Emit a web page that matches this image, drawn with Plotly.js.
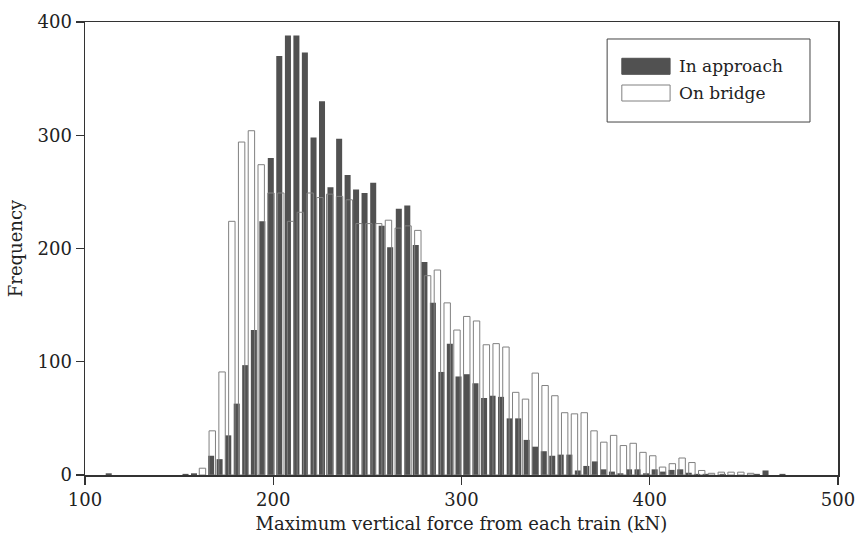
<!DOCTYPE html>
<html>
<head>
<meta charset="utf-8">
<script src="https://cdn.plot.ly/plotly-3.0.1.min.js"></script>
<style>
  html, body { margin: 0; padding: 0; background: #ffffff; }
  #chart { width: 855px; height: 536px; }
</style>
</head>
<body>
<div id="chart"></div>
<script>
// Histogram of the maximum vertical force per train, two measurement locations.

// "In approach" histogram: bin centres (kN) and counts
const approachForce = [
  112.6, 153.4, 157.9,
  167.0, 171.5, 176.1, 180.6, 185.1, 189.7, 194.2, 198.7, 203.2, 207.8,
  212.3, 216.8, 221.4, 225.9, 230.4, 235.0, 239.5, 244.0, 248.5, 253.1,
  257.6, 262.1, 266.7, 271.2, 275.7, 280.3, 284.8, 289.3, 293.8, 298.4,
  302.9, 307.4, 312.0, 316.5, 321.0, 325.6, 330.1, 334.6, 339.1, 343.7,
  348.2, 352.7, 357.3, 361.8, 366.3, 370.9, 375.4, 379.9, 384.4, 389.0,
  393.5, 398.0, 402.6, 407.1, 411.6, 416.2, 420.7, 425.2, 429.7, 434.3,
  438.8, 443.3, 447.9, 452.4, 456.9, 461.5, 466.0, 470.5
];
const approachCount = [
  1.5, 1, 1.5,
  17, 14, 35, 63, 97, 128, 224, 280, 370, 388,
  388, 373, 298, 330, 254, 297, 265, 252, 249, 258,
  220, 201, 235, 238, 203, 188, 152, 91, 116, 87,
  89, 81, 68, 70, 69, 50, 50, 31, 25, 21,
  17, 18, 18, 4, 8, 12, 5, 3, 1.5, 5,
  5, 1.5, 5, 3, 4.5, 5, 2, 1, 1, 0,
  1, 0, 0, 0, 1, 4, 0, 1
];

// "On bridge" histogram: bin centres (kN) and counts
const bridgeForce = [
  162.4, 167.6, 172.8, 178.0, 183.2, 188.4, 193.6, 198.8, 204.0, 209.2,
  214.4, 219.6, 224.8, 230.0, 235.2, 240.4, 245.6, 250.8, 256.0, 261.2,
  266.4, 271.6, 276.8, 282.0, 287.2, 292.4, 297.6, 302.8, 308.0, 313.2,
  318.4, 323.6, 328.8, 334.0, 339.2, 344.4, 349.6, 354.8, 360.0, 365.2,
  370.4, 375.6, 380.8, 386.0, 391.2, 396.4, 401.6, 406.8, 412.0, 417.2,
  422.4, 427.6, 432.8, 438.0, 443.2, 448.4, 453.6
];
const bridgeCount = [
  6, 39, 91, 224, 294, 304, 274, 249, 249, 224,
  232, 249, 245, 248, 246, 243, 222, 222, 222, 225,
  218, 220, 216, 176, 181, 152, 128, 140, 136, 115,
  116, 113, 73, 67, 90, 79, 70, 55, 54, 55,
  39, 29, 35, 26, 28, 20, 17, 7, 10, 15,
  11, 4, 1.5, 2.5, 2.5, 2.5, 1.5
];

const seriesNames = ['In approach', 'On bridge'];
const xTicks = [100, 200, 300, 400, 500];
const yTicks = [0, 100, 200, 300, 400];

const DARK = '#515151';
const OUTLINE = '#808080';
const AXIS = '#333333';
const FONT = 'DejaVu Serif, Liberation Serif, serif';

const traces = [
  {
    type: 'bar',
    name: seriesNames[0],
    x: approachForce,
    y: approachCount,
    width: 3.2,
    marker: { color: DARK, line: { width: 0 } },
    hoverinfo: 'x+y+name'
  },
  {
    type: 'bar',
    name: seriesNames[1],
    x: bridgeForce,
    y: bridgeCount,
    width: 3.4,
    marker: { color: 'rgba(255,255,255,0)', line: { color: OUTLINE, width: 1 } },
    hoverinfo: 'x+y+name'
  }
];

// Boxed legend with wide swatches, placed in paper coordinates
const legendBox = { x0: 0.6934, x1: 0.9628, y0: 0.7792, y1: 0.9625 };
const swatchX = [0.7129, 0.7770];
const swatchY = [[0.8845, 0.9199], [0.8256, 0.8609]];
const labelX = 0.7867;
const labelY = [0.9022, 0.8433];

const shapes = [
  { type: 'rect', xref: 'paper', yref: 'paper',
    x0: legendBox.x0, x1: legendBox.x1, y0: legendBox.y0, y1: legendBox.y1,
    line: { color: '#444', width: 1 }, fillcolor: '#ffffff', layer: 'above' },
  { type: 'rect', xref: 'paper', yref: 'paper',
    x0: swatchX[0], x1: swatchX[1], y0: swatchY[0][0], y1: swatchY[0][1],
    line: { color: DARK, width: 1 }, fillcolor: DARK, layer: 'above' },
  { type: 'rect', xref: 'paper', yref: 'paper',
    x0: swatchX[0], x1: swatchX[1], y0: swatchY[1][0], y1: swatchY[1][1],
    line: { color: OUTLINE, width: 1 }, fillcolor: '#ffffff', layer: 'above' }
];

const annotations = seriesNames.map((name, i) => ({
  xref: 'paper', yref: 'paper', x: labelX, y: labelY[i],
  xanchor: 'left', yanchor: 'middle', showarrow: false,
  text: name, font: { family: FONT, size: 17, color: '#222' }
}));

const layout = {
  width: 855,
  height: 536,
  margin: { l: 85, r: 17, t: 22, b: 61 },
  paper_bgcolor: '#ffffff',
  plot_bgcolor: '#ffffff',
  barmode: 'overlay',
  showlegend: false,
  font: { family: FONT, size: 18, color: '#222' },
  xaxis: {
    range: [100, 500],
    tickvals: xTicks,
    ticktext: xTicks.map(String),
    ticklabeloverflow: 'allow',
    ticks: 'outside', ticklen: 8, tickwidth: 1.3, tickcolor: AXIS,
    showline: true, linecolor: AXIS, linewidth: 1.5, mirror: true,
    showgrid: false, zeroline: false,
    tickfont: { family: FONT, size: 18, color: '#222' },
    title: { text: 'Maximum vertical force from each train (kN)',
             font: { family: FONT, size: 18, color: '#222' }, standoff: 8 }
  },
  yaxis: {
    range: [0, 400],
    tickvals: yTicks,
    ticktext: yTicks.map(String),
    ticklabeloverflow: 'allow',
    ticks: 'outside', ticklen: 8, tickwidth: 1.3, tickcolor: AXIS,
    showline: true, linecolor: AXIS, linewidth: 1.5, mirror: true,
    showgrid: false, zeroline: false,
    tickfont: { family: FONT, size: 18, color: '#222' },
    title: { text: 'Frequency', font: { family: FONT, size: 18, color: '#222' }, standoff: 10 }
  },
  shapes: shapes,
  annotations: annotations
};

Plotly.newPlot('chart', traces, layout, { displayModeBar: false, staticPlot: true });
</script>
</body>
</html>
